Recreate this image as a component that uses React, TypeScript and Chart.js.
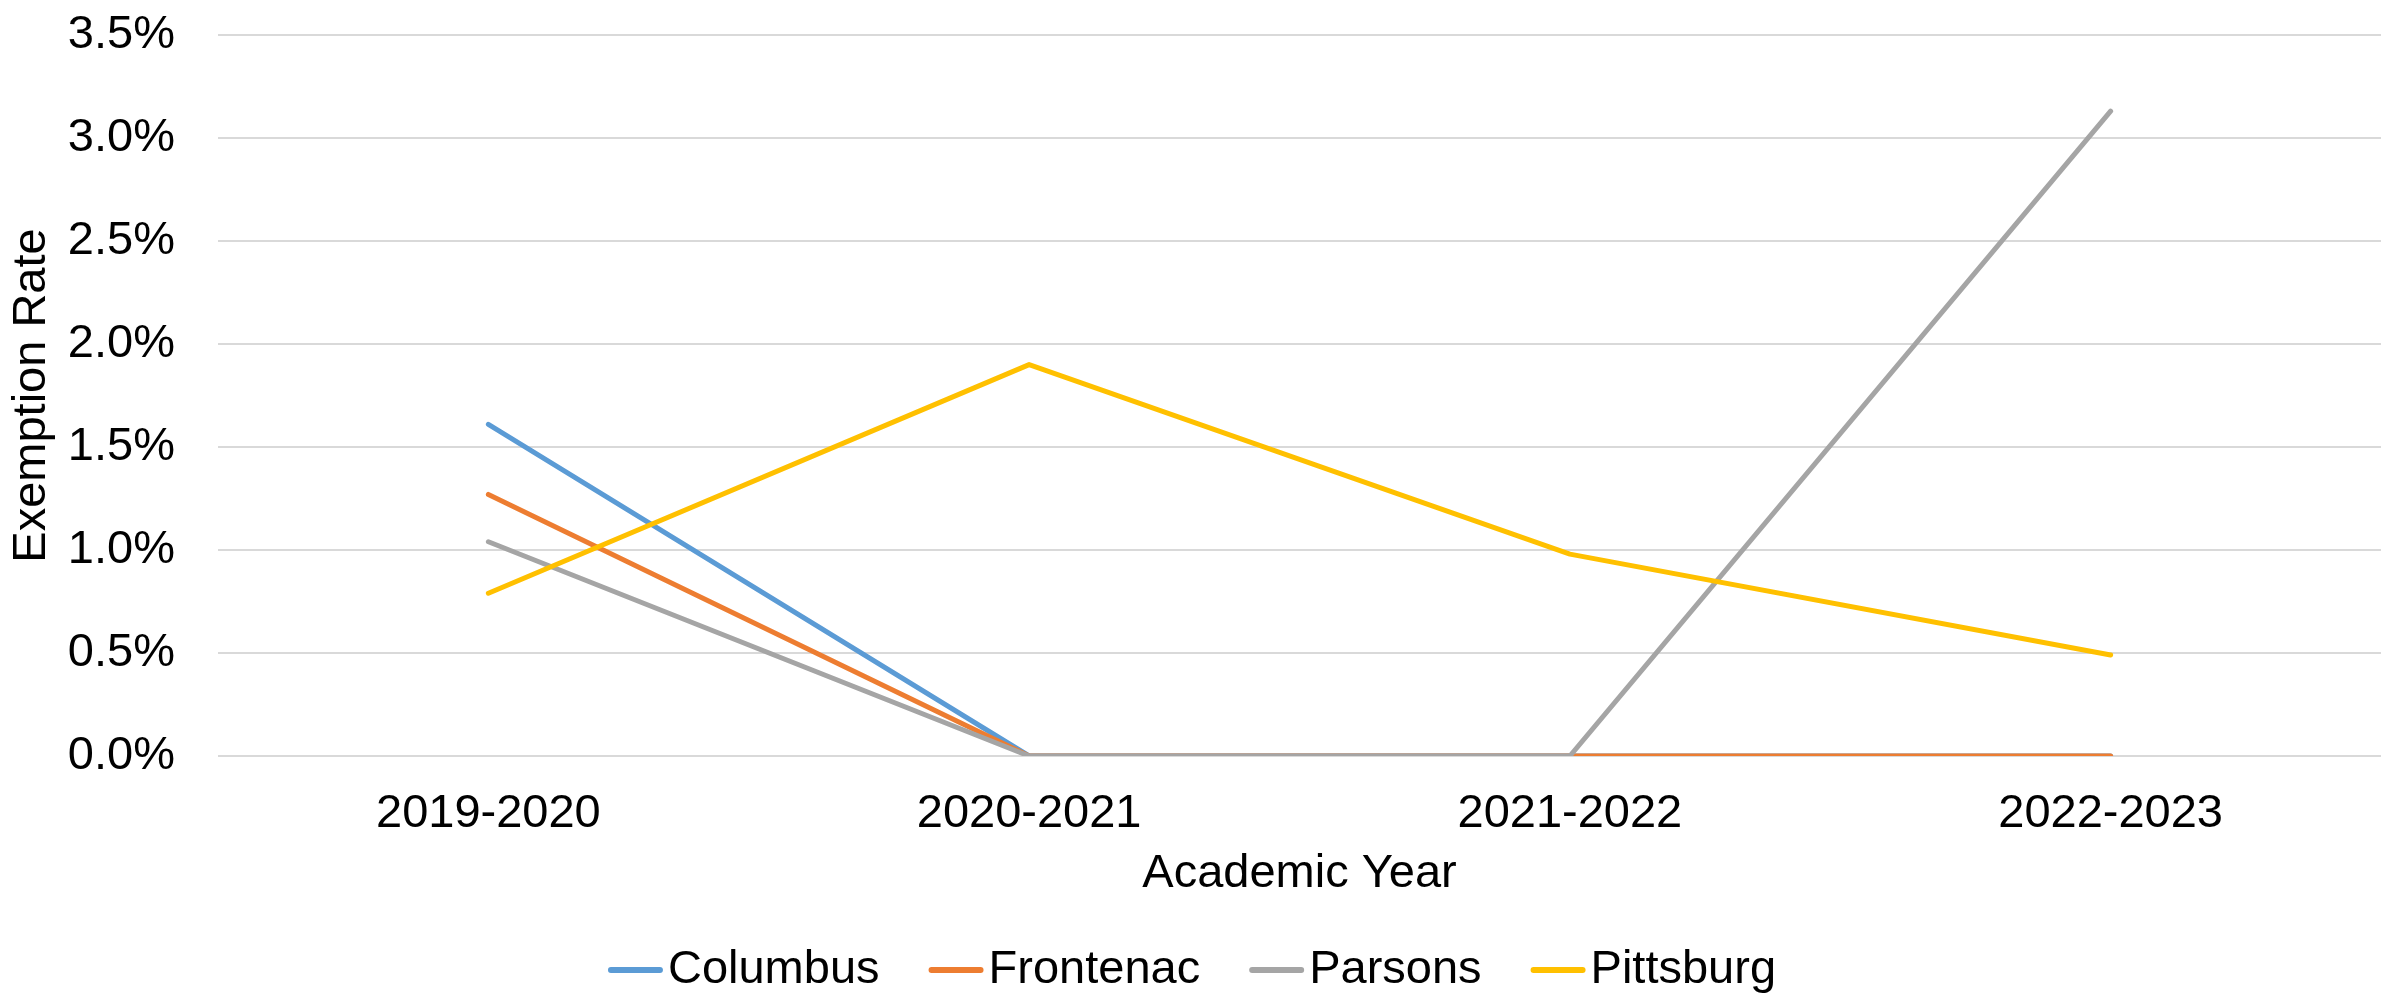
import React, { useEffect, useRef } from 'react';
import { Chart, registerables } from 'chart.js';

Chart.register(...registerables);

const categories = ['2019-2020', '2020-2021', '2021-2022', '2022-2023'];
const columbus = [1.61, 0, 0, 0];
const frontenac = [1.27, 0, 0, 0];
const parsons = [1.04, 0, 0, 3.13];
const pittsburg = [0.79, 1.9, 0.98, 0.49];
const seriesNames = ['Columbus', 'Frontenac', 'Parsons', 'Pittsburg'];
const seriesColors = ['#5B9BD5', '#ED7D31', '#A5A5A5', '#FFC000'];
const yMin = 0;
const yMax = 3.5;
const yStep = 0.5;
const xTitle = 'Academic Year';
const yTitle = 'Exemption Rate';

const FONT_FAMILY = '"Liberation Sans", Arial, sans-serif';
const FONT_SIZE = 47;

const legendPlugin = {
  id: 'customLegend',
  afterDraw(chart: any) {
    const ctx = chart.ctx;
    ctx.save();
    ctx.font = `${FONT_SIZE}px ${FONT_FAMILY}`;
    const lineLen = 55;
    const textGap = 5;
    const itemGap = 49;
    const widths = seriesNames.map((n) => ctx.measureText(n).width);
    const total =
      widths.reduce((a, b) => a + b, 0) +
      seriesNames.length * (lineLen + textGap) +
      (seriesNames.length - 1) * itemGap;
    let x = chart.width / 2 - 5 - total / 2;
    const y = 970;
    ctx.textBaseline = 'middle';
    ctx.textAlign = 'left';
    seriesNames.forEach((name, i) => {
      ctx.strokeStyle = seriesColors[i];
      ctx.lineWidth = 6;
      ctx.lineCap = 'round';
      ctx.beginPath();
      ctx.moveTo(x + 3, y);
      ctx.lineTo(x + lineLen - 3, y);
      ctx.stroke();
      ctx.fillStyle = '#000000';
      ctx.fillText(name, x + lineLen + textGap, y);
      x += lineLen + textGap + widths[i] + itemGap;
    });
    ctx.restore();
  },
};

export default function App() {
  const canvasRef = useRef<HTMLCanvasElement | null>(null);

  useEffect(() => {
    document.body.style.margin = '0';
    const canvas = canvasRef.current;
    if (!canvas) return;
    const dataSeries = [columbus, frontenac, parsons, pittsburg];
    const chart = new Chart(canvas, {
      type: 'line',
      data: {
        labels: categories,
        datasets: dataSeries.map((d, i) => ({
          label: seriesNames[i],
          data: d,
          borderColor: seriesColors[i],
          backgroundColor: seriesColors[i],
          borderWidth: 5,
          borderCapStyle: 'round',
          borderJoinStyle: 'round',
          pointRadius: 0,
          pointHoverRadius: 0,
          tension: 0,
          fill: false,
          order: dataSeries.length - i,
        })),
      },
      options: {
        responsive: false,
        animation: false,
        devicePixelRatio: 1,
        layout: { padding: { top: 35, right: 13, bottom: 96, left: 0 } },
        plugins: {
          legend: { display: false },
          tooltip: { enabled: false },
        },
        scales: {
          x: {
            type: 'category',
            offset: true,
            grid: { display: false, drawTicks: false },
            border: { display: false },
            ticks: {
              color: '#000000',
              padding: 30,
              maxRotation: 0,
              font: { family: FONT_FAMILY, size: FONT_SIZE },
            },
            title: {
              display: true,
              text: xTitle,
              color: '#000000',
              padding: { top: 0, bottom: 4 },
              font: { family: FONT_FAMILY, size: FONT_SIZE },
            },
            afterFit(scale: any) {
              scale.height = 150;
              scale.paddingLeft = 0;
              scale.paddingRight = 0;
            },
          },
          y: {
            min: yMin,
            max: yMax,
            grid: { color: '#D9D9D9', lineWidth: 2, drawTicks: false },
            border: { display: false },
            ticks: {
              stepSize: yStep,
              color: '#000000',
              padding: 43,
              font: { family: FONT_FAMILY, size: FONT_SIZE },
              callback: (v: any) => Number(v).toFixed(1) + '%',
            },
            title: {
              display: true,
              text: yTitle,
              color: '#000000',
              padding: { top: 4, bottom: 0 },
              font: { family: FONT_FAMILY, size: FONT_SIZE },
            },
            afterFit(scale: any) {
              scale.width = 218;
              scale.paddingTop = 0;
              scale.paddingBottom = 0;
            },
          },
        },
      },
      plugins: [legendPlugin],
    } as any);
    return () => {
      chart.destroy();
    };
  }, []);

  return (
    <div style={{ width: 2394, height: 1002, background: '#ffffff' }}>
      <canvas ref={canvasRef} width={2394} height={1002} style={{ display: 'block' }} />
    </div>
  );
}
